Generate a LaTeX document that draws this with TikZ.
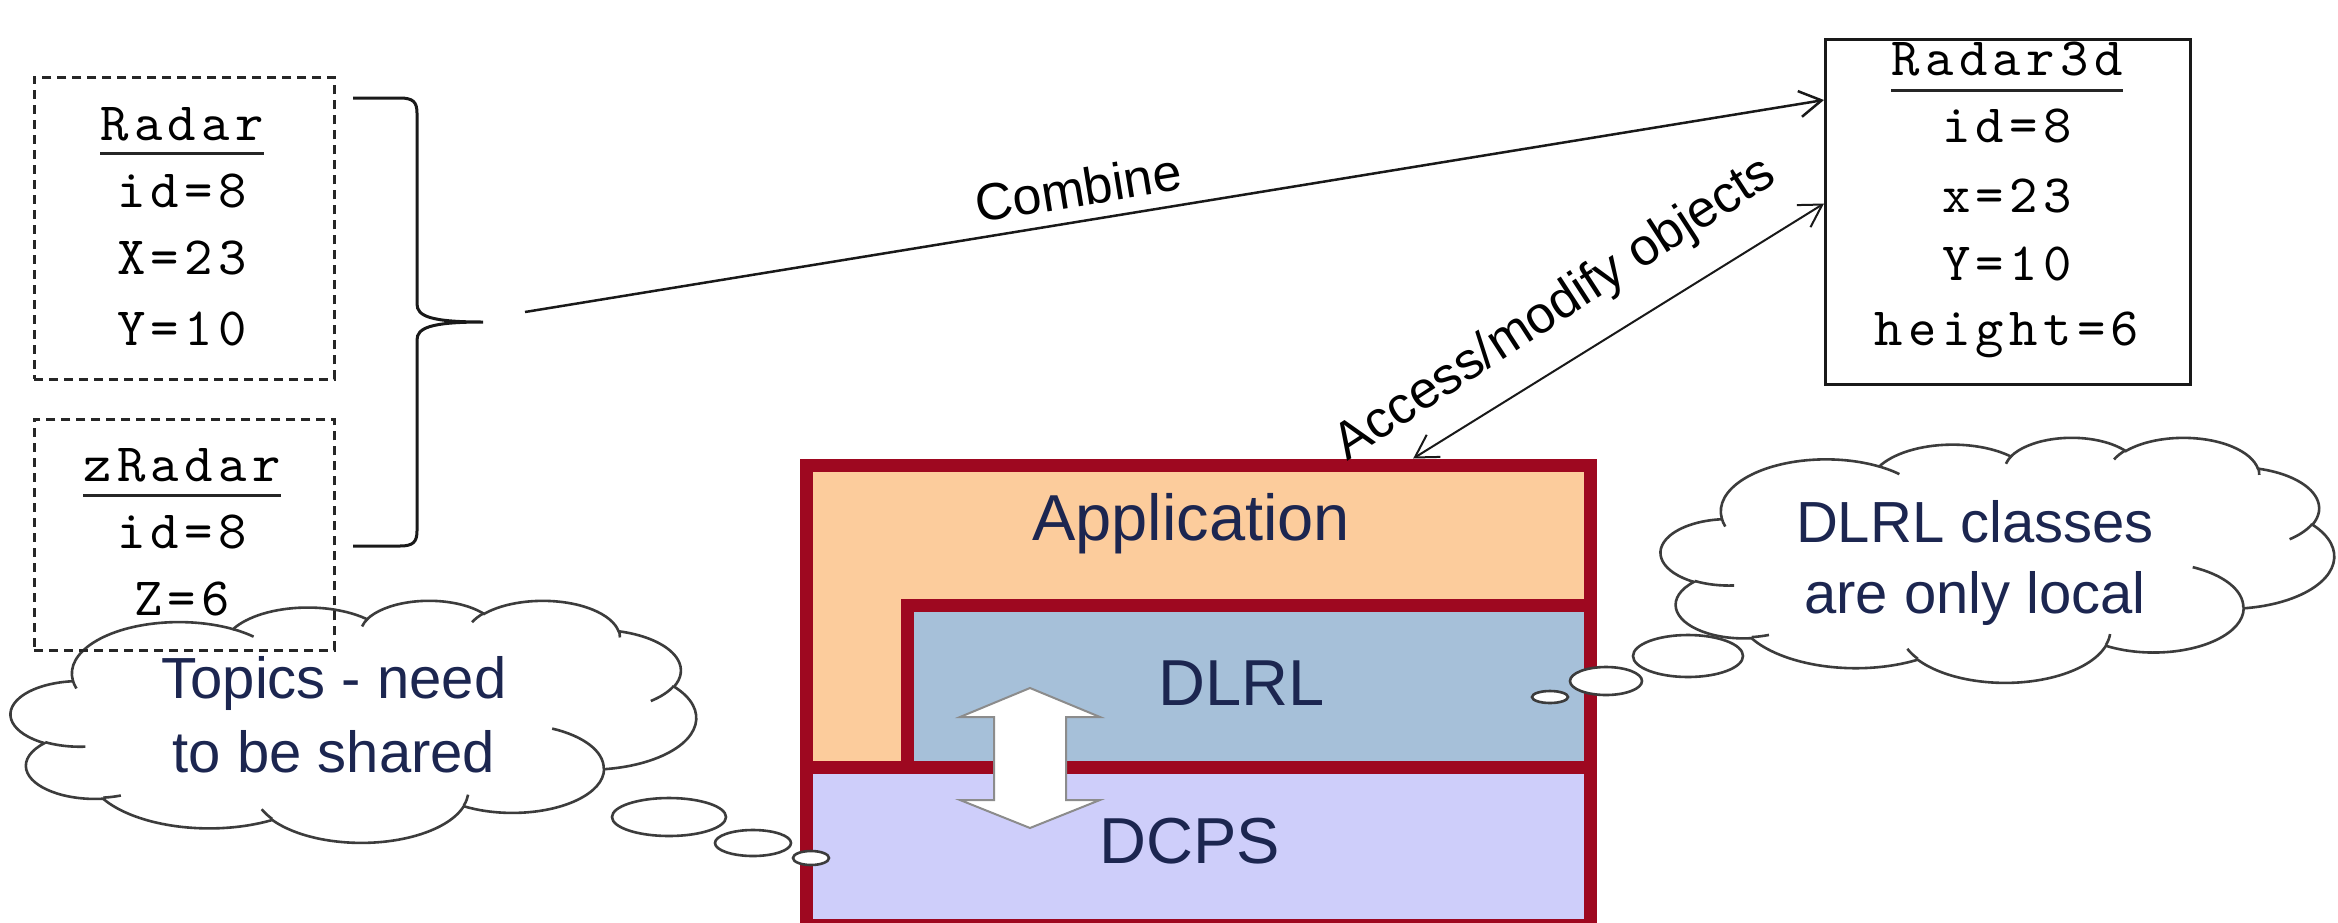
\documentclass[tikz,border=0pt]{standalone}
\usepackage{fontspec}
\setmainfont{Liberation Sans}
\newfontfamily\courish{lmmono10-regular.otf}[LetterSpace=10]
\usetikzlibrary{arrows.meta,calc}

\definecolor{stackred}{RGB}{158,8,32}
\definecolor{appfill}{RGB}{252,204,156}
\definecolor{dlrlfill}{RGB}{166,192,217}
\definecolor{dcpsfill}{RGB}{206,206,250}
\definecolor{navy}{RGB}{28,38,80}
\definecolor{cloudline}{RGB}{60,60,60}

% Cloud outline: elliptic arcs given by visual start angle and sweep;
% convert them once to the parametric angles used by TikZ's arc.
\newcommand\arcprep[5]{%
  \pgfmathsetmacro\oots{atan2((#2)*sin(#4),(#3)*cos(#4))}%
  \pgfmathsetmacro\ootd{atan2((#2)*sin((#4)+(#5)),(#3)*cos((#4)+(#5)))-(\oots)}%
  \pgfmathsetmacro\ootd{\ootd<0 ? \ootd+360 : \ootd}%
  \expandafter\xdef\csname arcS#1\endcsname{\oots}%
  \expandafter\xdef\csname arcD#1\endcsname{\ootd}%
}
% outer lobes
\arcprep{A}{67.53}{91.90}{-190.4875}{123.7805}
\arcprep{B}{53.33}{72.67}{-144.1024}{89.9452}
\arcprep{C}{43.65}{59.45}{-145.8079}{99.7230}
\arcprep{D}{48.57}{65.95}{-130.9861}{117.2417}
\arcprep{E}{53.33}{72.73}{-78.7089}{109.0269}
\arcprep{F}{67.75}{92.20}{-46.2673}{130.2690}
\arcprep{G}{57.85}{78.67}{0.6250}{114.0333}
\arcprep{H}{67.52}{92.15}{22.4516}{115.1726}
\arcprep{I}{77.20}{105.43}{66.2426}{75.7110}
\arcprep{J}{43.60}{59.18}{-274.9421}{146.7356}
\arcprep{K}{43.45}{59.45}{-246.8285}{152.5189}
% inner strokes
\arcprep{a}{43.45}{59.45}{86.7420}{26.4295}
\arcprep{b}{43.60}{59.18}{73.6105}{11.4475}
\arcprep{c}{67.52}{92.15}{137.6242}{14.0811}
\arcprep{d}{67.52}{92.15}{6.4533}{15.9984}
\arcprep{e}{57.85}{78.67}{-70.2924}{70.9174}
\arcprep{f}{53.33}{72.73}{30.3180}{27.7515}
\arcprep{g}{48.57}{65.95}{-13.7443}{14.8589}
\arcprep{h}{48.57}{65.95}{-149.1815}{18.1954}
\arcprep{i}{43.65}{59.45}{-163.4943}{17.6864}
\arcprep{j}{67.53}{91.90}{-66.7070}{12.3194}
\arcprep{k}{67.53}{91.90}{157.6544}{11.8582}

% #1,#2: top-left corner; #3,#4: size of one unit (box is 432 x 432 units)
\newcommand\thoughtcloud[4]{%
\begin{scope}[shift={(#1,#2)}, x=#3pt, y=-#4pt]
  \filldraw[cloudstroke, fill=white] (39.00,143.70)
    arc[start angle=\arcSA, delta angle=\arcDA, x radius=67.53, y radius=91.90]
    arc[start angle=\arcSB, delta angle=\arcDB, x radius=53.33, y radius=72.67]
    arc[start angle=\arcSC, delta angle=\arcDC, x radius=43.65, y radius=59.45]
    arc[start angle=\arcSD, delta angle=\arcDD, x radius=48.57, y radius=65.95]
    arc[start angle=\arcSE, delta angle=\arcDE, x radius=53.33, y radius=72.73]
    arc[start angle=\arcSF, delta angle=\arcDF, x radius=67.75, y radius=92.20]
    arc[start angle=\arcSG, delta angle=\arcDG, x radius=57.85, y radius=78.67]
    arc[start angle=\arcSH, delta angle=\arcDH, x radius=67.52, y radius=92.15]
    arc[start angle=\arcSI, delta angle=\arcDI, x radius=77.20, y radius=105.43]
    arc[start angle=\arcSJ, delta angle=\arcDJ, x radius=43.60, y radius=59.18]
    arc[start angle=\arcSK, delta angle=\arcDK, x radius=43.45, y radius=59.45]
    -- cycle;
  \draw[cloudstroke]
    (46.93,261.77) arc[start angle=\arcSa, delta angle=\arcDa, x radius=43.45, y radius=59.45]
    (69.28,348.99) arc[start angle=\arcSb, delta angle=\arcDb, x radius=43.60, y radius=59.18]
    (164.78,390.90) arc[start angle=\arcSc, delta angle=\arcDc, x radius=67.52, y radius=92.15]
    (288.27,347.51) arc[start angle=\arcSd, delta angle=\arcDd, x radius=67.52, y radius=92.15]
    (341.29,229.54) arc[start angle=\arcSe, delta angle=\arcDe, x radius=57.85, y radius=78.67]
    (417.98,153.54) arc[start angle=\arcSf, delta angle=\arcDf, x radius=53.33, y radius=72.73]
    (383.24,54.26) arc[start angle=\arcSg, delta angle=\arcDg, x radius=48.57, y radius=65.95]
    (290.78,39.52) arc[start angle=\arcSh, delta angle=\arcDh, x radius=48.57, y radius=65.95]
    (221.41,47.20) arc[start angle=\arcSi, delta angle=\arcDi, x radius=43.65, y radius=59.45]
    (140.00,51.92) arc[start angle=\arcSj, delta angle=\arcDj, x radius=67.53, y radius=91.90]
    (41.27,157.89) arc[start angle=\arcSk, delta angle=\arcDk, x radius=67.53, y radius=91.90];
\end{scope}}

\begin{document}
\begin{tikzpicture}[x=1pt, y=-1pt,
  dbox/.style={draw=black!85, line width=2.6pt, dash pattern=on 9pt off 6pt,
    anchor=north west, inner sep=0pt},
  sbox/.style={draw=black!90, line width=3pt, anchor=north west, inner sep=0pt},
  mono/.style={font=\courish\fontsize{54}{60}\selectfont, anchor=base, inner sep=0pt},
  layer/.style={draw=stackred, line width=13pt, anchor=north west, inner sep=0pt},
  laytext/.style={font=\fontsize{65}{70}\selectfont, text=navy, anchor=base, inner sep=0pt},
  cloudtext/.style={font=\fontsize{58}{66}\selectfont, text=navy, anchor=base, inner sep=0pt},
  lbl/.style={font=\fontsize{52}{60}\selectfont, anchor=south, inner sep=0pt},
  conn/.style={draw=black!90, line width=2.5pt},
  cloudstroke/.style={draw=cloudline, line width=2.6pt},
  uline/.style={draw=black!85, line width=3pt},
]
\useasboundingbox (0,0) rectangle (2338,922);
\fill[white] (0,0) rectangle (2338,922);

% ---- layered architecture block ----
\begin{scope}
\clip (0,0) rectangle (2338,922);
\node[layer, fill=appfill, minimum width=784pt, minimum height=460pt] (stack) at (799.5,458.5) {};
\node[layer, fill=dlrlfill, minimum width=683pt, minimum height=161.5pt] (dlrl) at (900.5,599) {};
\node[layer, fill=dcpsfill, minimum width=784pt, minimum height=158pt] (dcps) at (799.5,760.5) {};
\end{scope}
\node[laytext] (apptxt) at (1191,540) {Application};
\node[laytext] (dlrltxt) at (1242,705) {DLRL};
\node[laytext] (dcpstxt) at (1190,863) {DCPS};
% two-way white arrow between DLRL and DCPS
\draw[draw=black!45, line width=2pt, fill=white, line join=miter]
  (1030,688) -- (1100,717) -- (1066,717) -- (1066,800) -- (1100,800) -- (1030,828)
  -- (960,800) -- (994,800) -- (994,717) -- (960,717) -- cycle;

% ---- thought clouds ----
\thoughtcloud{11}{600}{1.58565}{0.56019}
\thoughtcloud{1661}{437}{1.55787}{0.56713}
\node[cloudtext] (lt1) at (334,698) {Topics - need};
\node[cloudtext] (lt2) at (334,772) {to be shared};
\node[cloudtext] (rt1) at (1975,542) {DLRL classes};
\node[cloudtext] (rt2) at (1975,613) {are only local};

% ---- topic classes ----
\node[dbox, minimum width=300pt, minimum height=302pt] (radar) at (33,76) {};
\node[mono] (radarT) at (182,140) {Radar};
\draw[uline] ([yshift=-13pt]radarT.base west) -- ([yshift=-13pt]radarT.base east);
\node[mono] (radar1) at (182,207) {id=8};
\node[mono] (radar2) at (182,274) {X=23};
\node[mono] (radar3) at (182,345) {Y=10};

\node[dbox, minimum width=300pt, minimum height=231pt] (zradar) at (33,418) {};
\node[mono] (zradarT) at (182,481) {zRadar};
\draw[uline] ([yshift=-14pt]zradarT.base west) -- ([yshift=-14pt]zradarT.base east);
\node[mono] (zradar1) at (182,548) {id=8};
\node[mono] (zradar2) at (182,615) {Z=6};

% ---- combined object ----
\node[sbox, minimum width=365pt, minimum height=345pt] (r3d) at (1824,38) {};
\node[mono] (r3dT) at (2007,75) {Radar3d};
\draw[uline] ([yshift=-15pt]r3dT.base west) -- ([yshift=-15pt]r3dT.base east);
\node[mono] (r3d1) at (2007,142) {id=8};
\node[mono] (r3d2) at (2007,212) {x=23};
\node[mono] (r3d3) at (2007,280) {Y=10};
\node[mono] (r3d4) at (2007,345) {height=6};

% ---- thought bubbles ----
\draw[cloudstroke, fill=white] (669,817) ellipse [x radius=57, y radius=19];
\draw[cloudstroke, fill=white] (753,843) ellipse [x radius=38, y radius=13];
\draw[cloudstroke, fill=white] (811,858) ellipse [x radius=18, y radius=7];
\draw[cloudstroke, fill=white] (1688,656) ellipse [x radius=55, y radius=21];
\draw[cloudstroke, fill=white] (1606,681) ellipse [x radius=36, y radius=14];
\draw[cloudstroke, fill=white] (1550,697) ellipse [x radius=18, y radius=6];

% ---- brace grouping the two topics ----
\coordinate (btip) at (483,322);
\coordinate (cstart) at (525,312);
\draw[conn, line width=3pt]
  (353,98) -- (400,98) .. controls (413,98) and (417,102) .. (417,113)
  -- (417,304) .. controls (417,316) and (430,322) .. (btip)
  .. controls (430,322) and (417,328) .. (417,340)
  -- (417,531) .. controls (417,542) and (413,546) .. (400,546) -- (353,546);

% ---- connectors ----
\draw[conn, -{Straight Barb[length=22pt, width=26pt]}] (cstart) -- ([yshift=-62pt]r3d.north west)
  node[lbl, sloped, pos=0.43, outer sep=14.5pt] {Combine};
\draw[conn, line width=2pt, {Straight Barb[length=22pt, width=26pt]}-{Straight Barb[length=22pt, width=26pt]}]
  ($(stack.north west)!0.77!(stack.north east)$) -- ([yshift=8.5pt]r3d.west)
  node[lbl, rotate=33, pos=0.415, outer sep=27pt] {Access/modify objects};
\end{tikzpicture}
\end{document}
